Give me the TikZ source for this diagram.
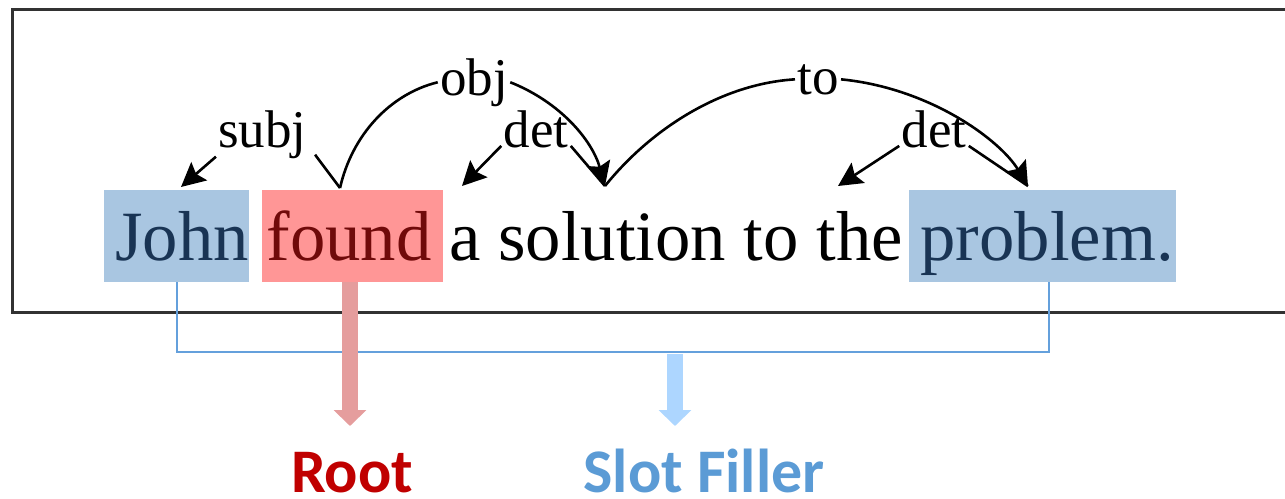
\documentclass[tikz,border=0pt]{standalone}
\usepackage{fontspec}
\setmainfont{Liberation Serif}
\newfontfamily\calib{Carlito}
\usetikzlibrary{arrows.meta,fit}

\definecolor{frameC}{RGB}{50,50,50}
\definecolor{slotBox}{RGB}{169,198,225}
\definecolor{rootBox}{RGB}{255,150,150}
\definecolor{slotText}{RGB}{25,52,84}
\definecolor{rootText}{RGB}{112,10,10}
\definecolor{rootArrow}{RGB}{229,157,157}
\definecolor{slotArrow}{RGB}{173,214,255}
\definecolor{bracketC}{RGB}{100,160,220}
\definecolor{rootLabel}{RGB}{192,0,0}
\definecolor{slotLabel}{RGB}{91,155,213}

\tikzset{
  word/.style={anchor=base west, inner sep=0pt, font=\fontsize{35.35}{42}\selectfont},
  deplabel/.style={anchor=base, inner sep=1pt, font=\fontsize{26.5}{30}\selectfont},
  dep/.style={line width=1.3pt, black},
  deparrow/.style={dep, -{Stealth[length=12pt,width=12pt,inset=2pt]}},
  hlbox/.style={inner sep=0pt, draw=none},
  bracket/.style={bracketC, line width=0.7pt},
  bigarrow/.style={line width=8pt, -{Triangle[length=8pt,width=16pt]}},
  role/.style={anchor=base, inner sep=0pt, font=\calib\bfseries\fontsize{31}{36}\selectfont}
}

\begin{document}
\begin{tikzpicture}[x=0.5pt,y=-0.5pt]
\useasboundingbox (0,0) rectangle (1285,498);
\clip (0,0) rectangle (1285,498);

% sentence frame (runs off the right edge)
\draw[frameC, line width=1.5pt] (12,9) rectangle (1300,312);

% highlight boxes behind the words
\node[hlbox, fill=slotBox, fit={(104,190) (249,282)}] (bjohn) {};
\node[hlbox, fill=rootBox, fit={(262,190) (443,282)}] (bfound) {};
\node[hlbox, fill=slotBox, fit={(909,190) (1176,282)}] (bprob) {};

% the sentence
\node[word, text=slotText] (wJohn) at (115,260) {John};
\node[word, text=rootText] (wfound) at (266.2,260) {found};
\node[word] (wa) at (448.8,260) {a};
\node[word] (wsolution) at (497.9,260) {solution};
\node[word] (wto) at (743.5,260) {to};
\node[word] (wthe) at (816.1,260) {the};
\node[word, text=slotText] (wproblem) at (920.2,260) {problem.};

% attachment points above the words
\coordinate (hJohn) at (181,187);
\coordinate (hfound) at (340,188);
\coordinate (ha) at (462,186);
\coordinate (hsolution) at (605,186);
\coordinate (hthe) at (838,186);
\coordinate (hproblem) at (1028,186);

% dependency labels
\node[deplabel] (lsubj) at (262.5,147) {subj};
\node[deplabel] (lobj) at (474,95) {obj};
\node[deplabel] (ldetA) at (536,147) {det};
\node[deplabel] (lto) at (818,94) {to};
\node[deplabel] (ldetB) at (934,147) {det};

% subj: found -> John
\draw[dep] (hfound) -- ([xshift=3pt,yshift=3pt]lsubj.south east);
\draw[deparrow] ([yshift=2pt]lsubj.south west) -- (hJohn);

% obj: found -> solution
\draw[dep] (hfound) .. controls (352,135) and (390,94) .. (lobj.west);
\draw[deparrow] (lobj.east) .. controls (560,102) and (592,140) .. (hsolution);

% det: solution -> a
\draw[dep] (hsolution) -- ([yshift=2pt]ldetA.south east);
\draw[deparrow] ([yshift=2pt]ldetA.south west) -- (ha);

% to: solution -> problem
\draw[dep] (hsolution) .. controls (650,130) and (720,84) .. (lto.west);
\draw[deparrow] (lto.east) .. controls (930,88) and (1000,140) .. (hproblem);

% det: problem -> the
\draw[dep] (hproblem) -- ([yshift=2pt]ldetB.south east);
\draw[deparrow] ([yshift=2pt]ldetB.south west) -- (hthe);

% bracket joining the two slot fillers
\coordinate (bj) at (177,282);
\coordinate (bp) at (1049,282);
\draw[bracket] (bj) -- (177,352) -- (1049,352) -- (bp);

% role labels
\node[role, text=rootLabel] (root) at (352,492) {Root};
\node[role, text=slotLabel] (slot) at (704,492) {Slot Filler};

\draw[bigarrow, rootArrow] (bfound.south -| 350,0) -- (350,426);
\draw[bigarrow, slotArrow] (675,354) -- (675,426);
\end{tikzpicture}
\end{document}
